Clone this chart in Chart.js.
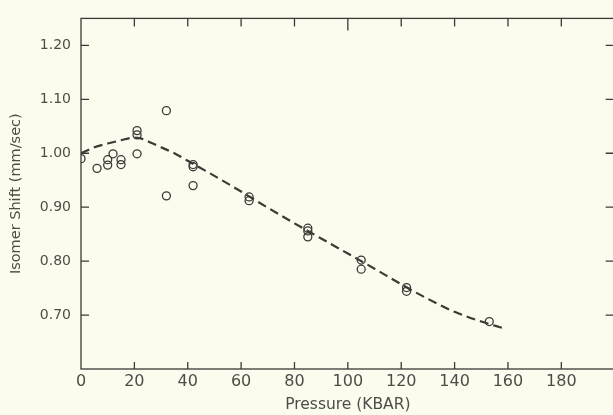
<!DOCTYPE html>
<html>
<head>
<meta charset="utf-8">
<script src="https://cdn.jsdelivr.net/npm/chart.js@4/dist/chart.umd.min.js"></script>
<style>
  html, body { margin: 0; padding: 0; background: #fcfcee; overflow: hidden; }
  canvas { display: block; }
</style>
</head>
<body>
<canvas id="c" width="620" height="415" style="width:620px;height:415px"></canvas>
<script>
// Measured points (pressure in KBAR, isomer shift in mm/sec)
const pressure    = [0, 6, 10, 10, 12, 15, 15, 21, 21, 21, 32, 32, 42, 42, 42, 63, 63, 85, 85, 85, 105, 105, 122, 122, 153];
const isomerShift = [0.990, 0.972, 0.978, 0.988, 0.999, 0.988, 0.979, 1.042, 1.034, 0.999, 1.079, 0.921, 0.979, 0.975, 0.940, 0.919, 0.912, 0.861, 0.856, 0.845, 0.802, 0.785, 0.751, 0.744, 0.688];

// Dashed fitted curve
const curveP  = [0, 5, 10, 15, 20, 22, 26, 30, 35, 40, 50, 60, 70, 80, 90, 100, 110, 120, 130, 140, 150, 158];
const curveIS = [1.000, 1.011, 1.018, 1.024, 1.029, 1.028, 1.020, 1.011, 1.000, 0.986, 0.958, 0.929, 0.899, 0.870, 0.842, 0.814, 0.786, 0.757, 0.730, 0.706, 0.688, 0.676];

// Tick labels
const xTicks = [0, 20, 40, 60, 80, 100, 120, 140, 160, 180];
const yTicks = [0.70, 0.80, 0.90, 1.00, 1.10, 1.20];

const ink = '#3a3a36';
const textCol = '#4d4d47';
const fontFam = '"DejaVu Sans", sans-serif';

const framePlugin = {
  id: 'frame',
  afterDraw(chart) {
    const ctx = chart.ctx;
    const a = chart.chartArea;
    const xs = chart.scales.x, ys = chart.scales.y;
    ctx.save();
    ctx.strokeStyle = ink;
    ctx.lineWidth = 1.3;
    ctx.strokeRect(a.left, a.top, a.right - a.left, a.bottom - a.top);
    ctx.beginPath();
    xTicks.forEach(v => {
      const px = xs.getPixelForValue(v);
      if (v !== 0) {
        ctx.moveTo(px, a.bottom); ctx.lineTo(px, a.bottom - 7);
        const len = (v === 100) ? 12 : 8;
        ctx.moveTo(px, a.top); ctx.lineTo(px, a.top + len);
      }
    });
    yTicks.forEach(v => {
      const py = ys.getPixelForValue(v);
      ctx.moveTo(a.left, py); ctx.lineTo(a.left + 8, py);
      ctx.moveTo(a.right, py); ctx.lineTo(a.right - 9, py);
    });
    ctx.stroke();
    ctx.restore();
  }
};

new Chart(document.getElementById('c'), {
  type: 'scatter',
  data: {
    datasets: [
      {
        type: 'line',
        data: curveP.map((p, i) => ({ x: p, y: curveIS[i] })),
        borderColor: ink,
        borderWidth: 2.2,
        borderDash: [9, 5],
        pointRadius: 0,
        fill: false,
        cubicInterpolationMode: 'monotone'
      },
      {
        data: pressure.map((p, i) => ({ x: p, y: isomerShift[i] })),
        pointStyle: 'circle',
        pointRadius: 4,
        pointBorderWidth: 1.3,
        pointBorderColor: ink,
        pointBackgroundColor: 'rgba(0,0,0,0)'
      }
    ]
  },
  plugins: [framePlugin],
  options: {
    responsive: false,
    maintainAspectRatio: false,
    animation: false,
    devicePixelRatio: 1,
    layout: { padding: { top: 15, right: 4, left: 0, bottom: 0 } },
    plugins: { legend: { display: false }, tooltip: { enabled: false } },
    scales: {
      x: {
        type: 'linear',
        min: 0, max: 200,
        afterBuildTicks: s => { s.ticks = xTicks.map(v => ({ value: v })); },
        afterFit: s => { s.height = 46; },
        grid: { display: false, drawTicks: false },
        border: { display: false },
        ticks: { color: textCol, font: { family: fontFam, size: 16 }, padding: 3, maxRotation: 0, autoSkip: false },
        title: { display: true, text: 'Pressure (KBAR)', color: textCol, font: { family: fontFam, size: 15.5 }, padding: { top: 0, bottom: 1 } }
      },
      y: {
        type: 'linear',
        min: 0.6, max: 1.25,
        afterBuildTicks: s => { s.ticks = yTicks.map(v => ({ value: v })); },
        afterFit: s => { s.width = 81; },
        grid: { display: false, drawTicks: false },
        border: { display: false },
        ticks: { color: textCol, font: { family: fontFam, size: 14 }, padding: 10, callback: v => v.toFixed(2) },
        title: { display: true, text: 'Isomer Shift (mm/sec)', color: textCol, font: { family: fontFam, size: 14.5 }, padding: { top: 8, bottom: 0 } }
      }
    }
  }
});
</script>
</body>
</html>
